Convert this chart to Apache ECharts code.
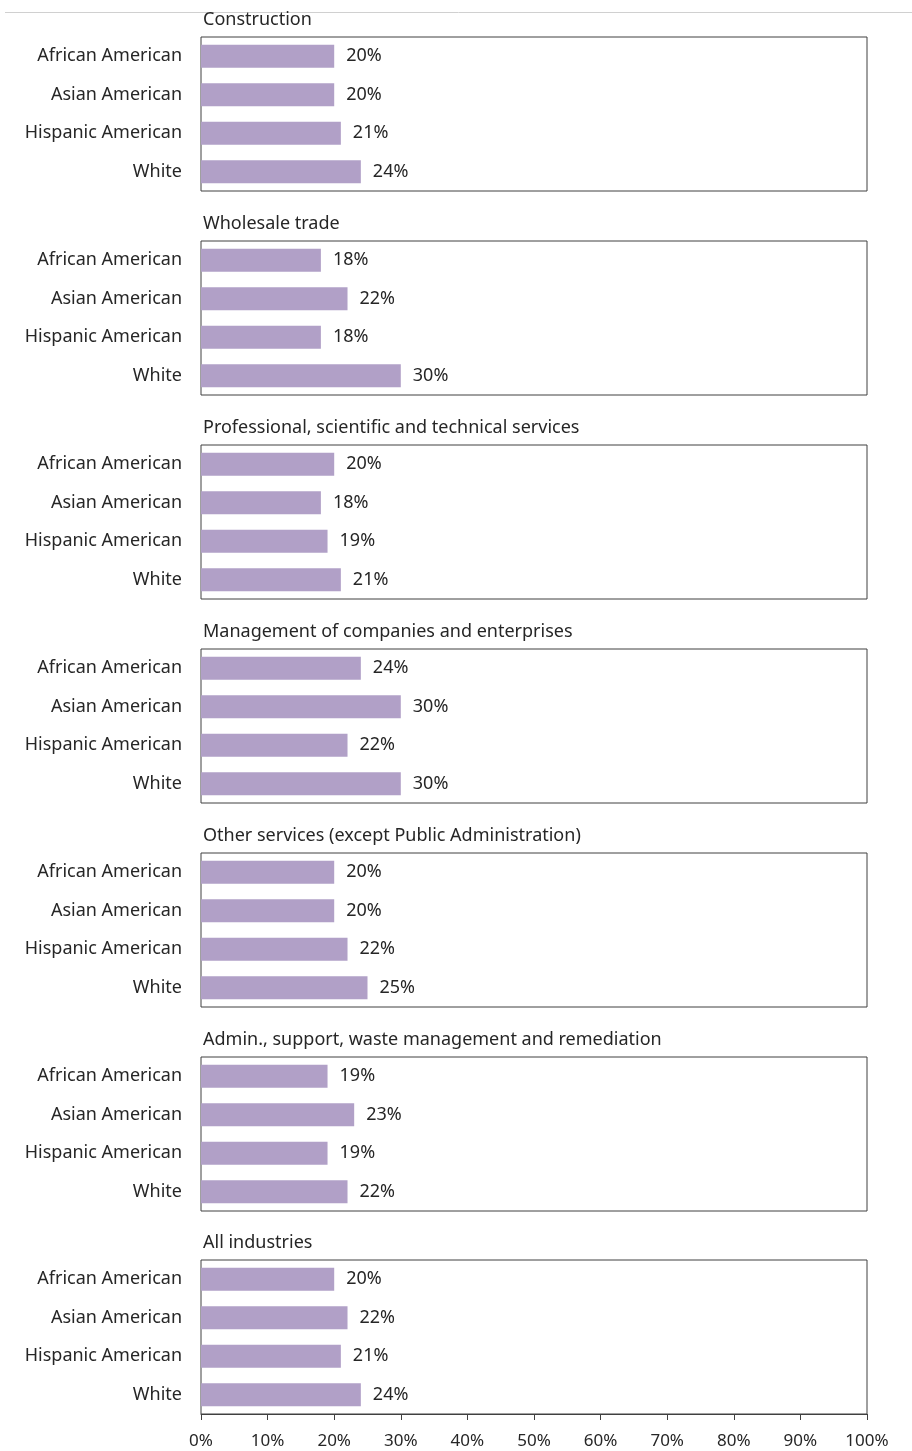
<!DOCTYPE html>
<html>
<head>
<meta charset="utf-8">
<script src="https://cdn.jsdelivr.net/npm/echarts@6/dist/echarts.min.js"></script>
<style>
  html, body { margin: 0; padding: 0; background: #fff; }
  #chart { width: 912px; height: 1451px; }
</style>
</head>
<body>
<div id="chart"></div>
<script>
// groups and industries
const groups = ['African American', 'Asian American', 'Hispanic American', 'White']
const industries = [
  'Construction',
  'Wholesale trade',
  'Professional, scientific and technical services',
  'Management of companies and enterprises',
  'Other services (except Public Administration)',
  'Admin., support, waste management and remediation',
  'All industries'
]
// percent values per industry, same order as groups
const construction = [20, 20, 21, 24]
const wholesale = [18, 22, 18, 30]
const professional = [20, 18, 19, 21]
const management = [24, 30, 22, 30]
const otherServices = [20, 20, 22, 25]
const admin = [19, 23, 19, 22]
const allIndustries = [20, 22, 21, 24]
const tickLabels = ['0%', '10%', '20%', '30%', '40%', '50%', '60%', '70%', '80%', '90%', '100%']

const values = [construction, wholesale, professional, management, otherServices, admin, allIndustries]

const myCharts = echarts.init(document.getElementById('chart'))
const font = 'Noto Sans'
const tops = [37, 241, 445, 649, 853, 1057, 1260]
const panelH = 154
const last = industries.length - 1

const option = {
  animation: false,
  textStyle: { fontFamily: font },
  graphic: [{
    type: 'line',
    shape: { x1: 5, y1: 12.5, x2: 912, y2: 12.5 },
    style: { stroke: '#d0d0d0', lineWidth: 1 }
  }],
  title: industries.map((t, i) => ({
    text: t,
    left: 203,
    top: tops[i] - 26,
    padding: 0,
    textStyle: { fontFamily: font, fontSize: 18, fontWeight: 'normal', color: '#262626' }
  })),
  grid: industries.map((t, i) => ({
    left: 201, right: 45, top: tops[i], height: panelH,
    show: true, borderColor: '#404040', borderWidth: 1, backgroundColor: 'transparent'
  })),
  xAxis: industries.map((t, i) => ({
    type: 'value', gridIndex: i, min: 0, max: 100, interval: 10,
    splitLine: { show: false },
    axisLine: { show: i === last, lineStyle: { color: '#404040' } },
    axisTick: { show: i === last, length: 6, lineStyle: { color: '#404040' } },
    axisLabel: {
      show: i === last, margin: 19, fontSize: 17, color: '#262626', fontFamily: font,
      formatter: v => tickLabels[Math.round(v / 10)]
    }
  })),
  yAxis: industries.map((t, i) => ({
    type: 'category', gridIndex: i, data: groups, inverse: true,
    axisLine: { show: false }, axisTick: { show: false },
    axisLabel: { margin: 19, fontSize: 18, color: '#262626', fontFamily: font }
  })),
  series: industries.map((t, i) => ({
    type: 'bar', name: t, xAxisIndex: i, yAxisIndex: i,
    data: values[i], barWidth: 23,
    itemStyle: { color: '#b1a0c7' },
    label: {
      show: true, position: 'right', distance: 12, formatter: '{c}%',
      fontSize: 18, color: '#262626', fontFamily: font
    }
  }))
}
myCharts.setOption(option)
</script>
</body>
</html>
